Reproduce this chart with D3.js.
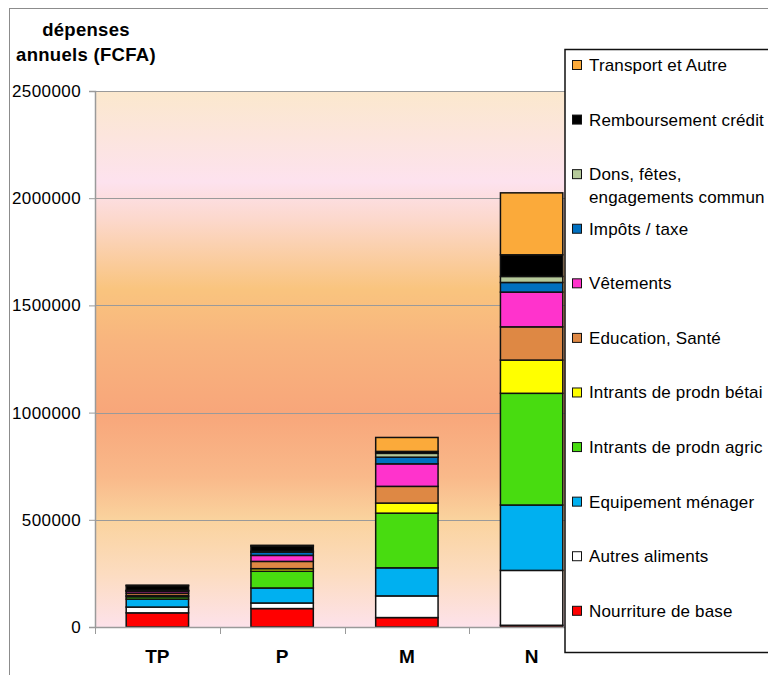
<!DOCTYPE html>
<html>
<head>
<meta charset="utf-8">
<script src="https://cdn.jsdelivr.net/npm/d3@7/dist/d3.min.js"></script>
<style>
  html, body { margin: 0; padding: 0; background: #ffffff; }
  svg { display: block; font-family: "Liberation Sans", Arial, sans-serif; }
</style>
</head>
<body>
<svg id="chart" width="768" height="675"></svg>
<script>
// Household groups
const categories = ["TP", "P", "M", "N"];

// Expense items, stacked from the bottom up
const seriesNames = [
  "Nourriture de base",
  "Autres aliments",
  "Equipement ménager",
  "Intrants de prodn agric",
  "Intrants de prodn bétai",
  "Education, Santé",
  "Vêtements",
  "Impôts  / taxe",
  "Dons, fêtes, engagements commun",
  "Remboursement crédit",
  "Transport et Autre"
];

// Annual spending per group (FCFA), one array per item, in category order
const nourritureBase   = [66000,  86000,  44000,   8000];
const autresAliments   = [27000,  26000, 101000, 256000];
const equipementMenage = [37000,  70000, 131000, 305000];
const intrantsAgric    = [11000,  78000, 255000, 521000];
const intrantsBetail   = [ 5000,  12000,  47000, 155000];
const educationSante   = [11000,  34000,  78000, 155000];
const vetements        = [ 9000,  28000, 105000, 162000];
const impotsTaxe       = [ 3000,  15000,  31000,  45000];
const donsFetes        = [ 2000,   4000,  18000,  28000];
const remboursement    = [22000,  25000,   9000, 101000];
const transportAutre   = [ 2000,   3000,  65000, 289000];

const seriesValues = [
  nourritureBase, autresAliments, equipementMenage, intrantsAgric, intrantsBetail,
  educationSante, vetements, impotsTaxe, donsFetes, remboursement, transportAutre
];

const seriesColors = [
  "#ff0000", "#ffffff", "#00b0f0", "#48dc10", "#ffff00",
  "#de8844", "#ff33cc", "#0070c0", "#b5c99a", "#000000", "#fbaa3a"
];

// Legend lines (top to bottom)
const legendLabels = [
  ["Transport et Autre"],
  ["Remboursement crédit"],
  ["Dons, fêtes,", "engagements commun"],
  ["Impôts  / taxe"],
  ["Vêtements"],
  ["Education, Santé"],
  ["Intrants de prodn bétai"],
  ["Intrants de prodn agric"],
  ["Equipement ménager"],
  ["Autres aliments"],
  ["Nourriture de base"]
];

const yTicks = [0, 500000, 1000000, 1500000, 2000000, 2500000];

const svg = d3.select("#chart");

// Outer chart frame
svg.append("rect")
  .attr("x", 9.5).attr("y", 8.5)
  .attr("width", 900).attr("height", 900)
  .attr("fill", "#ffffff")
  .attr("stroke", "#8c8c8c").attr("stroke-width", 1);

const plot = { left: 95, right: 594, top: 91, bottom: 627 };

const x = d3.scaleBand()
  .domain(categories)
  .range([plot.left, plot.right])
  .paddingInner(0.5)
  .paddingOuter(0.25);

const y = d3.scaleLinear()
  .domain([0, 2500000])
  .range([plot.bottom, plot.top]);

// Plot-area gradient fill
const defs = svg.append("defs");
const grad = defs.append("linearGradient")
  .attr("id", "plotFill")
  .attr("x1", 0).attr("y1", 0).attr("x2", 0).attr("y2", 1);
[
  [0.00, "#fbe8cd"],
  [0.17, "#fde2ee"],
  [0.24, "#fcd8cc"],
  [0.37, "#f9c47e"],
  [0.47, "#f8b47e"],
  [0.60, "#f8a67a"],
  [0.72, "#f9b98a"],
  [0.80, "#fad39e"],
  [0.90, "#fcdcc0"],
  [1.00, "#fde2ea"]
].forEach(([o, c]) => grad.append("stop").attr("offset", o).attr("stop-color", c));

svg.append("rect")
  .attr("x", plot.left).attr("y", plot.top)
  .attr("width", plot.right - plot.left)
  .attr("height", plot.bottom - plot.top)
  .attr("fill", "url(#plotFill)");

// Gridlines
svg.append("g")
  .selectAll("line")
  .data(yTicks.slice(1))
  .join("line")
  .attr("x1", plot.left).attr("x2", plot.right)
  .attr("y1", d => Math.round(y(d)) + 0.5)
  .attr("y2", d => Math.round(y(d)) + 0.5)
  .attr("stroke", "#9a9a9a").attr("stroke-width", 1);

// Y axis
const yAxis = svg.append("g")
  .attr("transform", `translate(${plot.left},0)`)
  .call(d3.axisLeft(y).tickValues(yTicks).tickFormat(d3.format("d")).tickSize(6).tickPadding(8));
yAxis.select(".domain").attr("stroke", "#9a9a9a").attr("stroke-width", 1.5);
yAxis.selectAll(".tick line").attr("stroke", "#9a9a9a");
yAxis.selectAll(".tick text")
  .attr("font-size", 17).attr("fill", "#000")
  .attr("letter-spacing", 0.4)
  .attr("font-family", "Liberation Sans, Arial, sans-serif");

// Stacked bars
const rows = categories.map((c, i) => {
  const r = { cat: c };
  seriesNames.forEach((s, j) => { r[s] = seriesValues[j][i]; });
  return r;
});
const stacked = d3.stack().keys(seriesNames)(rows);

svg.append("g")
  .selectAll("g")
  .data(stacked)
  .join("g")
  .attr("fill", (d, i) => seriesColors[i])
  .selectAll("rect")
  .data(d => d)
  .join("rect")
  .attr("x", d => x(d.data.cat))
  .attr("width", x.bandwidth())
  .attr("y", d => y(d[1]))
  .attr("height", d => y(d[0]) - y(d[1]))
  .attr("stroke", "#111")
  .attr("stroke-width", 1.5);

// X axis with ticks between categories
const xAxisG = svg.append("g");
xAxisG.append("line")
  .attr("x1", plot.left).attr("x2", plot.right)
  .attr("y1", plot.bottom + 0.5).attr("y2", plot.bottom + 0.5)
  .attr("stroke", "#9a9a9a").attr("stroke-width", 1.5);
const boundaries = categories.map((c, i) => x(c) - x.step() * x.paddingOuter())
  .concat([plot.right]);
xAxisG.selectAll("line.tk")
  .data(boundaries)
  .join("line")
  .attr("class", "tk")
  .attr("x1", d => Math.round(d) + 0.5).attr("x2", d => Math.round(d) + 0.5)
  .attr("y1", plot.bottom).attr("y2", plot.bottom + 7)
  .attr("stroke", "#9a9a9a");
xAxisG.selectAll("text")
  .data(categories)
  .join("text")
  .attr("x", d => x(d) + x.bandwidth() / 2)
  .attr("y", 663)
  .attr("text-anchor", "middle")
  .attr("font-size", 19)
  .attr("font-weight", "bold")
  .text(d => d);

// Y axis title
const title = svg.append("text")
  .attr("text-anchor", "middle")
  .attr("font-size", 18.5)
  .attr("font-weight", "bold")
  .attr("letter-spacing", 0.3);
title.append("tspan").attr("x", 86).attr("y", 36).text("dépenses");
title.append("tspan").attr("x", 86).attr("y", 61).text("annuels (FCFA)");

// Legend
const legend = svg.append("g");
legend.append("rect")
  .attr("x", 565).attr("y", 49.5)
  .attr("width", 400).attr("height", 603)
  .attr("fill", "#ffffff")
  .attr("stroke", "#111").attr("stroke-width", 1.5);

const legendColors = seriesColors.slice().reverse();
const legendStep = 54.58;
const items = legend.selectAll("g.item")
  .data(legendLabels)
  .join("g")
  .attr("class", "item")
  .attr("transform", (d, i) => `translate(0,${65 + i * legendStep})`);
items.append("rect")
  .attr("x", 572.5).attr("y", -4.5)
  .attr("width", 9).attr("height", 9)
  .attr("fill", (d, i) => legendColors[i])
  .attr("stroke", "#111").attr("stroke-width", 1);
items.append("text")
  .attr("font-size", 17)
  .attr("fill", "#000")
  .attr("letter-spacing", 0.15)
  .selectAll("tspan")
  .data(d => d)
  .join("tspan")
  .attr("x", 589)
  .attr("y", (d, k) => 6 + k * 23)
  .text(d => d);
</script>
</body>
</html>
